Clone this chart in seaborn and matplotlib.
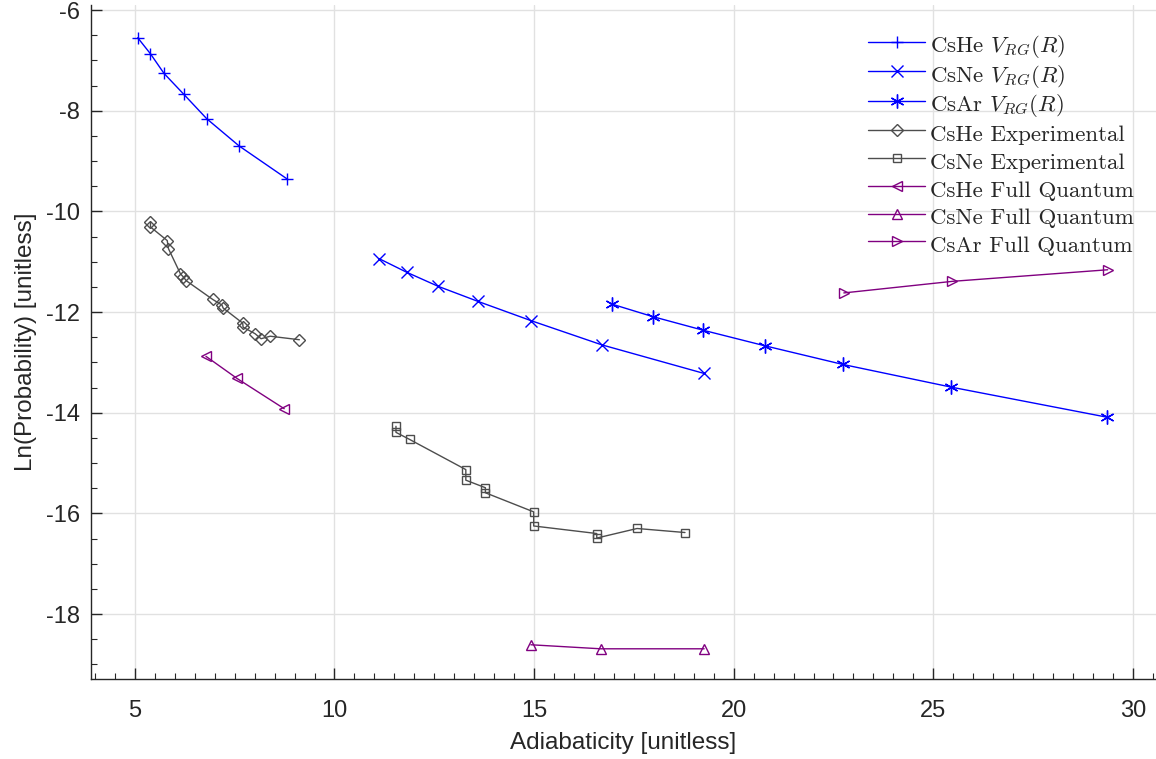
import matplotlib
matplotlib.use("Agg")
import matplotlib.pyplot as plt
import seaborn as sns
import pandas as pd

# ---- data -------------------------------------------------------------
cshe_vrg_x = [5.07, 5.39, 5.73, 6.22, 6.80, 7.61, 8.82]
cshe_vrg_y = [-6.55, -6.87, -7.26, -7.67, -8.16, -8.70, -9.36]

csne_vrg_x = [11.12, 11.81, 12.60, 13.60, 14.92, 16.69, 19.26]
csne_vrg_y = [-10.94, -11.21, -11.49, -11.79, -12.17, -12.65, -13.22]

csar_vrg_x = [16.94, 17.97, 19.23, 20.78, 22.73, 25.44, 29.36]
csar_vrg_y = [-11.84, -12.09, -12.36, -12.67, -13.04, -13.49, -14.09]

cshe_exp_x = [5.39, 5.39, 5.81, 5.84, 6.14, 6.21, 6.29, 6.95, 7.18, 7.21,
              7.70, 7.71, 8.01, 8.16, 8.39, 9.12]
cshe_exp_y = [-10.22, -10.31, -10.58, -10.74, -11.24, -11.30, -11.38, -11.75,
              -11.86, -11.92, -12.22, -12.30, -12.43, -12.53, -12.48, -12.55]

csne_exp_x = [11.54, 11.54, 11.88, 13.29, 13.29, 13.78, 13.78, 14.99, 14.99,
              16.57, 16.57, 17.58, 18.78]
csne_exp_y = [-14.27, -14.39, -14.53, -15.13, -15.34, -15.49, -15.59, -15.97,
              -16.25, -16.40, -16.49, -16.30, -16.38]

cshe_fq_x = [6.78, 7.56, 8.74]
cshe_fq_y = [-12.88, -13.32, -13.92]

csne_fq_x = [14.92, 16.67, 19.26]
csne_fq_y = [-18.61, -18.69, -18.69]

csar_fq_x = [22.76, 25.48, 29.37]
csar_fq_y = [-11.62, -11.39, -11.16]

labels = [r"CsHe $V_{RG}(R)$", r"CsNe $V_{RG}(R)$", r"CsAr $V_{RG}(R)$",
          "CsHe Experimental", "CsNe Experimental",
          "CsHe Full Quantum", "CsNe Full Quantum", "CsAr Full Quantum"]

# ---- styling ------------------------------------------------------------
sns.set_style("ticks")
plt.rcParams["font.family"] = ["Liberation Sans", "DejaVu Sans"]
plt.rcParams["mathtext.fontset"] = "cm"
plt.rcParams["axes.unicode_minus"] = False

BLUE = (0.0, 0.0, 1.0)
GRAY = (0.30, 0.30, 0.30)
PURPLE = (0.50, 0.0, 0.50)
AXC = (0.15, 0.15, 0.15)

series = [
    (cshe_vrg_x, cshe_vrg_y, BLUE, "+", 9, "full"),
    (csne_vrg_x, csne_vrg_y, BLUE, "x", 8, "full"),
    (csar_vrg_x, csar_vrg_y, BLUE, (6, 2, 0), 10, "full"),
    (cshe_exp_x, cshe_exp_y, GRAY, "D", 6.5, "none"),
    (csne_exp_x, csne_exp_y, GRAY, "s", 6, "none"),
    (cshe_fq_x, cshe_fq_y, PURPLE, "<", 7.5, "none"),
    (csne_fq_x, csne_fq_y, PURPLE, "^", 7.5, "none"),
    (csar_fq_x, csar_fq_y, PURPLE, ">", 7.5, "none"),
]

fig = plt.figure(figsize=(11.56, 7.59), dpi=100)
ax = fig.add_axes([91 / 1156, 1 - 679 / 759, 1 - 91 / 1156, (679 - 5) / 759])

handles = []
for (xs, ys, col, mk, ms, fill), lab in zip(series, labels):
    df = pd.DataFrame({"x": xs, "y": ys})
    n_before = len(ax.lines)
    sns.lineplot(data=df, x="x", y="y", sort=False, estimator=None, ax=ax,
                 color=col, marker=mk, markersize=ms, linewidth=1.0,
                 markeredgewidth=1.0, markeredgecolor=col,
                 markerfacecolor=(col if fill == "full" else "none"),
                 label=lab, legend=False)
    handles.append(ax.lines[n_before])

ax.set_xlim(3.9, 30.58)
ax.set_ylim(-19.29, -5.9)
ax.set_xticks([5, 10, 15, 20, 25, 30])
ax.set_yticks([-6, -8, -10, -12, -14, -16, -18])
ax.set_xticks([v * 0.5 for v in range(8, 62)], minor=True)
ax.set_yticks([-v * 0.5 for v in range(12, 39)], minor=True)

ax.grid(True, which="major", color="#e1e1e1", linewidth=1.0)
ax.set_axisbelow(True)
for s in ("top", "right"):
    ax.spines[s].set_visible(False)
for s in ("left", "bottom"):
    ax.spines[s].set_color(AXC)
    ax.spines[s].set_linewidth(1.0)

ax.tick_params(which="major", direction="in", length=8, width=1.0,
               color=AXC, labelcolor=AXC, labelsize=17)
ax.tick_params(axis="y", which="major", pad=8)
ax.tick_params(axis="x", which="major", pad=15)
ax.tick_params(which="minor", direction="in", length=4, width=0.8, color=AXC)

ax.set_xlabel("Adiabaticity [unitless]", fontsize=17.5, color=AXC, labelpad=7)
ax.set_ylabel("Ln(Probability) [unitless]", fontsize=17.5, color=AXC, labelpad=6)

leg = ax.legend(handles=handles, labels=labels, loc="upper left",
                bbox_to_anchor=(868 / 1156, 1 - 31 / 759),
                bbox_transform=fig.transFigure, frameon=False,
                prop={"family": "cmr10", "size": 16.5}, handlelength=2.5,
                handleheight=1.49, handletextpad=0.2, labelspacing=0.0,
                borderpad=0, borderaxespad=0)

fig.savefig("out.png", dpi=100)
